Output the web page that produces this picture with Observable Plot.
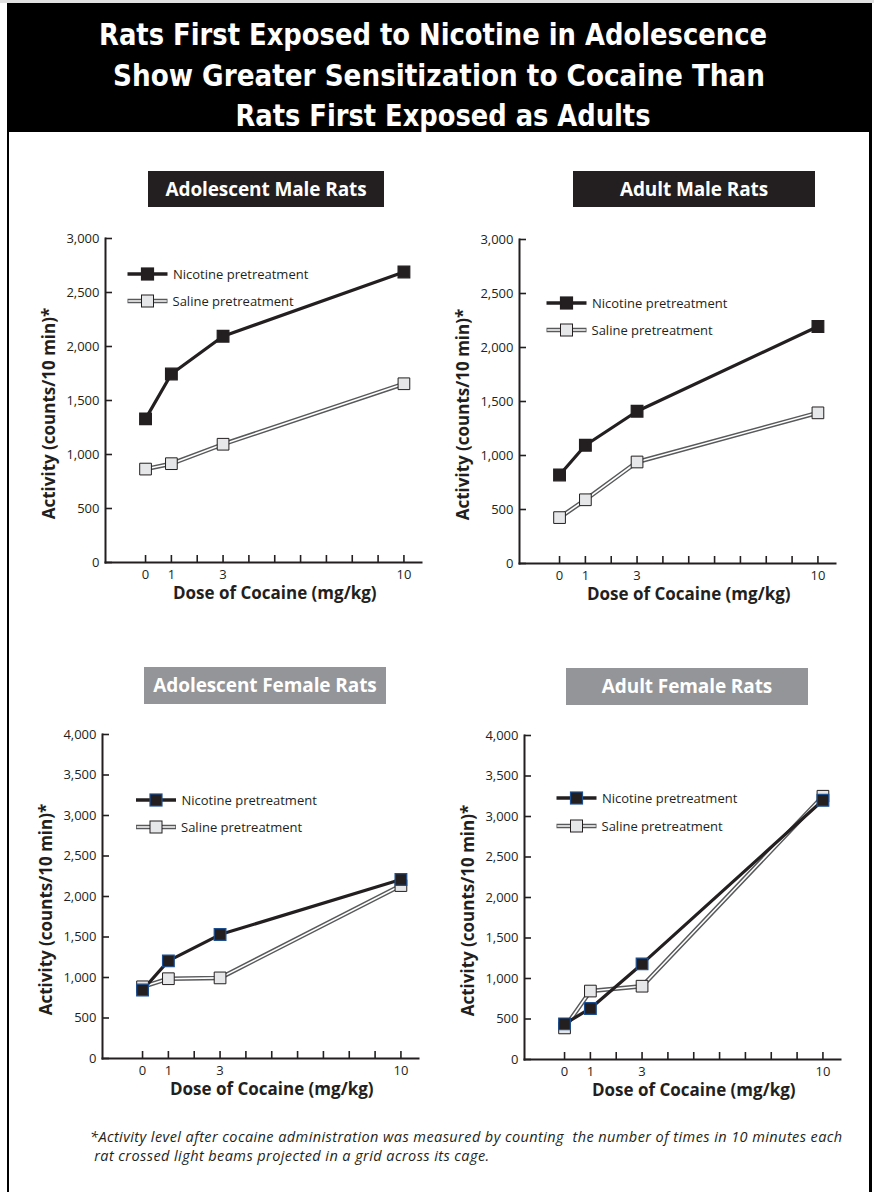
<!DOCTYPE html>
<html><head><meta charset="utf-8">
<script src="https://cdn.jsdelivr.net/npm/d3@7"></script>
<script src="https://cdn.jsdelivr.net/npm/@observablehq/plot@0.6"></script>
<style>
body{margin:0;background:#fff;}
#page{position:relative;width:874px;height:1192px;overflow:hidden;background:#fff;font-family:"Open Sans",sans-serif;color:#231f20}
.abs{position:absolute}
.sub{position:absolute;color:#fff;font-weight:bold;font-size:19px;text-align:center;font-family:"Open Sans",sans-serif;letter-spacing:-0.1px}
</style></head><body><div id="page"></div>
<script>
// ---- data ----
const doses = [0, 1, 3, 10];
const doseTickLabels = [0, 1, 3, 10];
const doseTicks = [0, 1, 2, 3, 4, 5, 6, 7, 8, 9, 10];
const seriesNames = ["Nicotine pretreatment", "Saline pretreatment"];
const panelTitles = ["Adolescent Male Rats", "Adult Male Rats", "Adolescent Female Rats", "Adult Female Rats"];
const nicotineAdolescentMale = [1330, 1745, 2095, 2690];
const salineAdolescentMale = [865, 915, 1095, 1655];
const nicotineAdultMale = [820, 1095, 1410, 2195];
const salineAdultMale = [425, 590, 940, 1395];
const nicotineAdolescentFemale = [845, 1205, 1530, 2210];
const salineAdolescentFemale = [885, 985, 995, 2135];
const nicotineAdultFemale = [440, 630, 1180, 3200];
const salineAdultFemale = [390, 845, 905, 3250];
const yTicksMale = [0, 500, 1000, 1500, 2000, 2500, 3000];
const yTicksFemale = [0, 500, 1000, 1500, 2000, 2500, 3000, 3500, 4000];
const titleLines = ["Rats First Exposed to Nicotine in Adolescence", "Show Greater Sensitization to Cocaine Than", "Rats First Exposed as Adults"];
const yLabel = "Activity (counts/10 min)*";
const xLabel = "Dose of Cocaine (mg/kg)";
const footnoteLines = ["*Activity level after cocaine administration was measured by counting  the number of times in 10 minutes each", "rat crossed light beams projected in a grid across its cage."];

// ---- layout ----
const INK = "#231f20";
const page = document.getElementById("page");

function box(left, top, w, h, bg) {
  const d = document.createElement("div");
  d.className = "abs";
  Object.assign(d.style, {left: left + "px", top: top + "px", width: w + "px", height: h + "px", background: bg});
  page.appendChild(d);
  return d;
}
box(0, 0, 874, 3, "#e0e0e0");
box(7, 3, 2, 1189, "#000");
box(869, 3, 3, 1189, "#000");

// title
const tsvg = d3.select(page).append("svg").attr("class", "abs").style("left", "0px").style("top", "0px")
  .attr("width", 874).attr("height", 134);
tsvg.append("rect").attr("x", 7).attr("y", 3).attr("width", 865).attr("height", 129).attr("fill", "#000");
const titleGeom = [{cx: 433, y: 45, len: 668}, {cx: 439, y: 86, len: 652}, {cx: 443, y: 126, len: 415}];
titleLines.forEach((s, i) => {
  tsvg.append("text").attr("x", titleGeom[i].cx).attr("y", titleGeom[i].y)
    .attr("text-anchor", "middle").attr("fill", "#fff")
    .attr("font-family", "'Liberation Sans Narrow','DejaVu Sans Condensed',sans-serif")
    .attr("font-weight", "bold").attr("font-size", 31)
    .attr("textLength", titleGeom[i].len).attr("lengthAdjust", "spacingAndGlyphs").text(s);
});

const panels = [
  {title: panelTitles[0], nic: nicotineAdolescentMale, sal: salineAdolescentMale, yTicks: yTicksMale,
   box: [148, 171, 236, 36], boxColor: INK, left: 30, top: 223, nicStroke: INK,
   legend: {x: 127.5, y1: 274, y2: 301}},
  {title: panelTitles[1], nic: nicotineAdultMale, sal: salineAdultMale, yTicks: yTicksMale,
   box: [573, 171, 242, 36], boxColor: INK, left: 444, top: 224, nicStroke: INK,
   legend: {x: 546.5, y1: 303, y2: 330}},
  {title: panelTitles[2], nic: nicotineAdolescentFemale, sal: salineAdolescentFemale, yTicks: yTicksFemale,
   box: [144, 667, 242, 37], boxColor: "#939598", left: 27, top: 719, nicStroke: "#1d4f91",
   legend: {x: 136, y1: 800, y2: 827}},
  {title: panelTitles[3], nic: nicotineAdultFemale, sal: salineAdultFemale, yTicks: yTicksFemale,
   box: [566, 668, 242, 37], boxColor: "#939598", left: 449, top: 720, nicStroke: "#1d4f91",
   legend: {x: 556.5, y1: 798, y2: 826}}
];

const xDomain = [-1.55, 10.68];
const labelFont = "'Open Sans', sans-serif";

panels.forEach(p => {
  const b = box(p.box[0], p.box[1], p.box[2], p.box[3], p.boxColor);
  b.className = "sub";
  b.style.lineHeight = p.box[3] + "px";
  b.textContent = p.title;

  const nicRows = doses.map((d, i) => ({dose: d, value: p.nic[i]}));
  const salRows = doses.map((d, i) => ({dose: d, value: p.sal[i]}));
  const yMax = p.yTicks[p.yTicks.length - 1];

  const chart = Plot.plot({
    width: 401, height: 389,
    marginLeft: 75, marginRight: 10, marginTop: 15, marginBottom: 50,
    x: {domain: xDomain, axis: null},
    y: {domain: [0, yMax], axis: null},
    style: {fontFamily: "'Open Sans', sans-serif", fontSize: "13px", color: INK, background: "transparent", overflow: "visible"},
    marks: [
      Plot.axisY({ticks: p.yTicks, label: null, tickSize: 0, tickPadding: 6, tickFormat: d3.format(","), fontSize: 13, fill: INK}),
      Plot.axisY({ticks: p.yTicks, label: null, tickSize: 7, dx: 7, tickFormat: () => "", stroke: INK, strokeWidth: 1.6}),
      Plot.axisX({ticks: doseTickLabels, label: null, tickSize: 0, tickPadding: 7, fontSize: 13, fill: INK}),
      Plot.axisX({ticks: doseTicks, label: null, tickSize: 7, dy: -7, tickFormat: () => "", stroke: INK, strokeWidth: 1.6}),
      Plot.frame({anchor: "left", stroke: INK, strokeWidth: 2}),
      Plot.frame({anchor: "bottom", stroke: INK, strokeWidth: 2}),
      Plot.line(salRows, {x: "dose", y: "value", stroke: "#58595b", strokeWidth: 4.5}),
      Plot.line(salRows, {x: "dose", y: "value", stroke: "#ffffff", strokeWidth: 1.6}),
      Plot.line(nicRows, {x: "dose", y: "value", stroke: INK, strokeWidth: 3.2}),
      Plot.dot(salRows, {x: "dose", y: "value", symbol: "square", r: 6.6, fill: "#e6e7e8", stroke: INK, strokeWidth: 1}),
      Plot.dot(nicRows, {x: "dose", y: "value", symbol: "square", r: 6.6, fill: INK, stroke: p.nicStroke, strokeWidth: 1.2}),
      Plot.text([yLabel], {text: d => d, frameAnchor: "left", textAnchor: "middle", rotate: -90, dx: -56, dy: 13,
        fontSize: 17, fontWeight: "bold", fill: INK, fontFamily: labelFont}),
      Plot.text([xLabel], {text: d => d, x: () => d3.mean([doses[0], doses[doses.length - 1]]), frameAnchor: "bottom",
        dy: 36, fontSize: 17, fontWeight: "bold", fill: INK, fontFamily: labelFont})
    ]
  });
  chart.classList.add("abs");
  chart.style.left = p.left + "px";
  chart.style.top = p.top + "px";
  page.appendChild(chart);

  // legend
  const lg = d3.select(page).append("svg").attr("class", "abs").style("left", "0px").style("top", "0px")
    .attr("width", 874).attr("height", 1192).style("pointer-events", "none");
  const L = p.legend;
  lg.append("line").attr("x1", L.x).attr("x2", L.x + 40).attr("y1", L.y1).attr("y2", L.y1).attr("stroke", INK).attr("stroke-width", 3.5);
  lg.append("rect").attr("x", L.x + 20 - 6).attr("y", L.y1 - 6).attr("width", 12).attr("height", 12).attr("fill", INK).attr("stroke", p.nicStroke).attr("stroke-width", 1.2);
  lg.append("text").attr("x", L.x + 45.5).attr("y", L.y1).attr("dy", "0.35em").attr("font-size", 13).attr("fill", INK)
    .attr("font-family", "'Open Sans', sans-serif").text(seriesNames[0]);
  lg.append("line").attr("x1", L.x).attr("x2", L.x + 40).attr("y1", L.y2).attr("y2", L.y2).attr("stroke", "#58595b").attr("stroke-width", 4.5);
  lg.append("line").attr("x1", L.x + 0.8).attr("x2", L.x + 39.2).attr("y1", L.y2).attr("y2", L.y2).attr("stroke", "#fff").attr("stroke-width", 1.6);
  lg.append("rect").attr("x", L.x + 20 - 6).attr("y", L.y2 - 6).attr("width", 12).attr("height", 12).attr("fill", "#e6e7e8").attr("stroke", INK).attr("stroke-width", 1);
  lg.append("text").attr("x", L.x + 45).attr("y", L.y2).attr("dy", "0.35em").attr("font-size", 13).attr("fill", INK)
    .attr("font-family", "'Open Sans', sans-serif").text(seriesNames[1]);
});

// footnote
const fn = document.createElement("div");
fn.className = "abs";
Object.assign(fn.style, {left: "90px", top: "1127px", width: "775px", fontStyle: "italic", fontSize: "14.5px", lineHeight: "19px", color: INK, whiteSpace: "pre", letterSpacing: "0.42px"});
fn.textContent = footnoteLines[0] + "\n " + footnoteLines[1];
page.appendChild(fn);
</script></body></html>
